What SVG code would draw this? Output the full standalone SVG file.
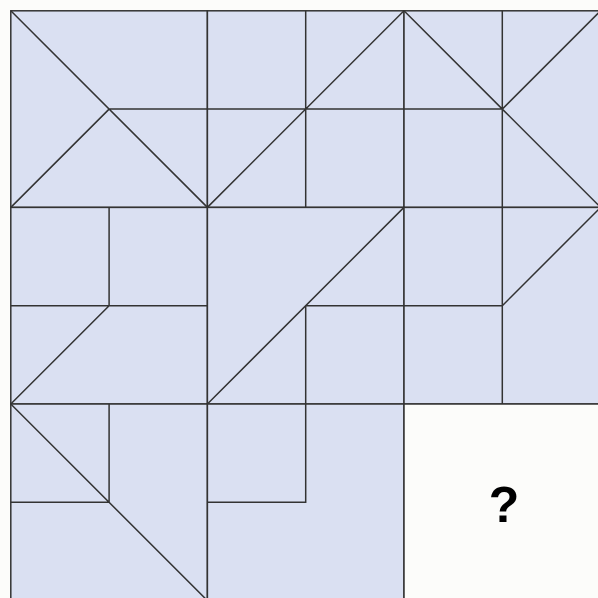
<svg xmlns="http://www.w3.org/2000/svg" width="598" height="598" viewBox="0 0 598 598">
<style>
.cell{fill:#dae0f2;stroke:#333;stroke-width:1.5}
.blank{fill:#fcfcfa;stroke:#333;stroke-width:1.5}
.ln{fill:none;stroke:#333;stroke-width:1.5}
.q{font-family:"Liberation Sans",Arial,sans-serif;font-weight:bold;font-size:50px;fill:#000}
</style>
<rect width="598" height="598" fill="#fcfcfa"/>
<g id="cell-r0c0">
<rect class="cell" x="10.8" y="10.8" width="196.6" height="196.6"/>
<path class="ln" d="M10.8 10.8L207.4 207.4M10.8 207.4L109.1 109.1L207.4 109.1"/>
</g>
<g id="cell-r0c1">
<rect class="cell" x="207.4" y="10.8" width="196.6" height="196.6"/>
<path class="ln" d="M305.7 10.8L305.7 207.4M207.4 109.1L404 109.1M207.4 207.4L404 10.8"/>
</g>
<g id="cell-r0c2">
<rect class="cell" x="404" y="10.8" width="196.6" height="196.6"/>
<path class="ln" d="M502.3 10.8L502.3 207.4M404 109.1L502.3 109.1M404 10.8L502.3 109.1L600.6 10.8M502.3 109.1L600.6 207.4"/>
</g>
<g id="cell-r1c0">
<rect class="cell" x="10.8" y="207.4" width="196.6" height="196.6"/>
<path class="ln" d="M109.1 207.4L109.1 305.7M10.8 305.7L207.4 305.7M109.1 305.7L10.8 404"/>
</g>
<g id="cell-r1c1">
<rect class="cell" x="207.4" y="207.4" width="196.6" height="196.6"/>
<path class="ln" d="M207.4 404L404 207.4M305.7 305.7L404 305.7M305.7 305.7L305.7 404"/>
</g>
<g id="cell-r1c2">
<rect class="cell" x="404" y="207.4" width="196.6" height="196.6"/>
<path class="ln" d="M502.3 207.4L502.3 404M404 305.7L502.3 305.7L600.6 207.4"/>
</g>
<g id="cell-r2c0">
<rect class="cell" x="10.8" y="404" width="196.6" height="196.6"/>
<path class="ln" d="M10.8 404L207.4 600.6M109.1 404L109.1 502.3L10.8 502.3"/>
</g>
<g id="cell-r2c1">
<rect class="cell" x="207.4" y="404" width="196.6" height="196.6"/>
<path class="ln" d="M305.7 404L305.7 502.3L207.4 502.3"/>
</g>
<g id="cell-r2c2">
<rect class="blank" x="404" y="404" width="196.6" height="196.6"/>
<text class="q" x="504" y="522" text-anchor="middle">?</text>
</g>
</svg>
